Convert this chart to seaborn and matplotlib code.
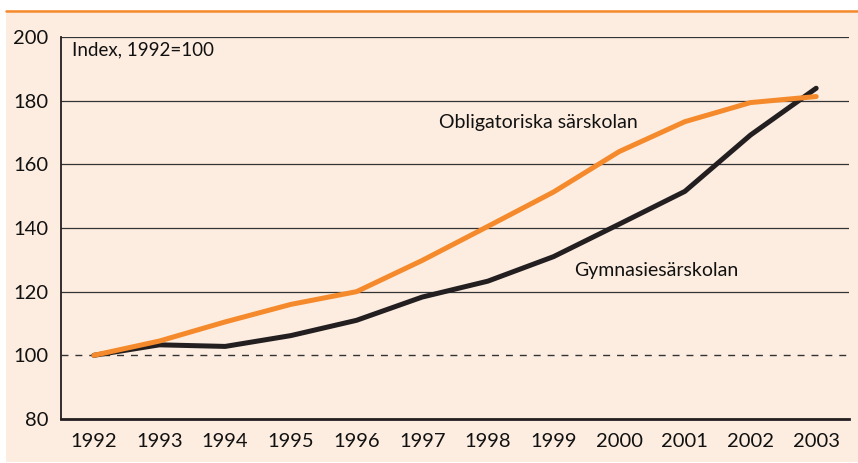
import matplotlib
matplotlib.use("Agg")
import matplotlib.pyplot as plt
import seaborn as sns
import pandas as pd
from matplotlib.patches import Rectangle
from matplotlib.lines import Line2D

years = list(range(1992, 2004))
obligatoriska = [100, 104.5, 110.5, 116, 120, 129.8, 140.5, 151.3, 164, 173.4, 179.4, 181.3]
gymnasie = [100, 103.3, 102.8, 106.2, 111, 118.3, 123.3, 131, 141.2, 151.5, 169.2, 183.9]
y_ticks = [80, 100, 120, 140, 160, 180, 200]

bg = "#FDEDE0"
orange = "#F58A2C"
black = "#231F20"

df = pd.DataFrame({
    "year": years * 2,
    "index": obligatoriska + gymnasie,
    "serie": ["Obligatoriska särskolan"] * len(years) + ["Gymnasiesärskolan"] * len(years),
})

sns.set_style("white")
plt.rcParams["font.family"] = ["Lato", "DejaVu Sans"]

fig = plt.figure(figsize=(8.58, 4.63), dpi=100)
fig.patch.set_facecolor("white")
# beige panel + orange top rule
fig.add_artist(Rectangle((6 / 858, 0.002), 1, 1 - 11 / 463, transform=fig.transFigure,
                         facecolor=bg, edgecolor="none", zorder=-5))
fig.add_artist(Line2D([6 / 858, 1], [1 - 10.5 / 463] * 2, transform=fig.transFigure,
                      color=orange, lw=1.8, zorder=-4))

ax = fig.add_axes([61 / 858, 1 - 419 / 463, (849 - 61) / 858, (419 - 37) / 463])
ax.set_facecolor("none")
ax.set_zorder(1)

# grid
for v in y_ticks[2:]:
    ax.axhline(v, color="#333333", lw=0.9, zorder=1)
ax.axhline(100, color="#333333", lw=1.0, ls=(0, (5, 5)), zorder=1)

sns.lineplot(data=df, x="year", y="index", hue="serie",
             palette={"Obligatoriska särskolan": orange, "Gymnasiesärskolan": black},
             hue_order=["Gymnasiesärskolan", "Obligatoriska särskolan"],
             lw=3.6, legend=False, ax=ax, zorder=3)
for l in ax.lines[-2:]:
    l.set_solid_capstyle("round")

ax.set_xlim(1991.5, 2003.5)
ax.set_ylim(80, 200)
ax.set_xticks(years)
ax.set_yticks(y_ticks)
ax.tick_params(axis="both", length=0, labelsize=14.5, colors="#111111")
ax.tick_params(axis="y", pad=9)
ax.tick_params(axis="x", pad=10)
ax.set_xlabel("")
ax.set_ylabel("")

for s in ["top", "right"]:
    ax.spines[s].set_visible(False)
ax.spines["left"].set_color(black)
ax.spines["left"].set_linewidth(1.3)
ax.spines["bottom"].set_color(black)
ax.spines["bottom"].set_linewidth(2)

ax.text(1991.67, 196, "Index, 1992=100", fontsize=13.5, va="center", ha="left", color="#111111")
ax.text(1997.25, 173, "Obligatoriska särskolan", fontsize=14, va="center", ha="left", color="#111111")
ax.text(1999.32, 126.8, "Gymnasiesärskolan", fontsize=14, va="center", ha="left", color="#111111")

fig.savefig("out.png", dpi=100, facecolor=fig.get_facecolor())
